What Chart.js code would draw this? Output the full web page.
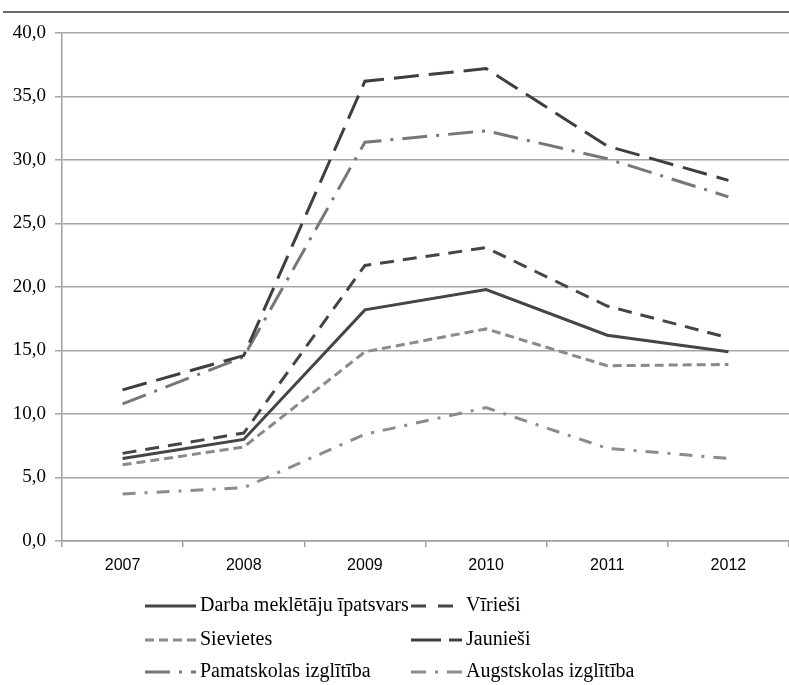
<!DOCTYPE html>
<html>
<head>
<meta charset="utf-8">
<script src="https://cdn.jsdelivr.net/npm/chart.js@4/dist/chart.umd.min.js"></script>
<style>
  html, body { margin: 0; padding: 0; background: #fff; }
  #wrap { position: relative; width: 789px; height: 685px; }
</style>
</head>
<body>
<div id="wrap"><canvas id="c" width="789" height="685"></canvas></div>
<script>
const years = ['2007', '2008', '2009', '2010', '2011', '2012'];
const yTicks = [0, 5, 10, 15, 20, 25, 30, 35, 40];
const seriesNames = ['Darba meklētāju īpatsvars', 'Vīrieši', 'Sievietes', 'Jaunieši', 'Pamatskolas izglītība', 'Augstskolas izglītība'];
const darba = [6.5, 8.0, 18.2, 19.8, 16.2, 14.9];
const virieshi = [6.9, 8.5, 21.7, 23.1, 18.5, 16.0];
const sievietes = [6.0, 7.4, 14.9, 16.7, 13.8, 13.9];
const jaunieshi = [11.9, 14.6, 36.2, 37.2, 31.1, 28.4];
const pamatskolas = [10.8, 14.5, 31.4, 32.3, 30.1, 27.1];
const augstskolas = [3.7, 4.2, 8.4, 10.5, 7.3, 6.5];

const styles = [
  { color: '#454545', dash: [], legendDash: [] },
  { color: '#454545', dash: [14, 9], legendDash: [15, 12] },
  { color: '#8a8a8a', dash: [9, 5], legendDash: [9, 5] },
  { color: '#3f3f3f', dash: [25, 10], legendDash: [30, 8] },
  { color: '#777777', dash: [25, 9, 3, 9], legendDash: [25, 9, 3, 9] },
  { color: '#8c8c8c', dash: [13, 9, 3, 9], legendDash: [15, 9, 3, 9] }
];
const values = [darba, virieshi, sievietes, jaunieshi, pamatskolas, augstskolas];

const datasets = values.map((v, i) => ({
  label: seriesNames[i],
  data: v,
  borderColor: styles[i].color,
  backgroundColor: styles[i].color,
  borderDash: styles[i].dash,
  legendDash: styles[i].legendDash,
  borderWidth: 3,
  pointRadius: 0,
  tension: 0,
  fill: false,
  borderCapStyle: 'butt',
  borderJoinStyle: 'miter'
}));

const decorPlugin = {
  id: 'decor',
  beforeDraw(chart) {
    const ctx = chart.ctx;
    ctx.save();
    ctx.fillStyle = '#fff';
    ctx.fillRect(0, 0, chart.width, chart.height);
    ctx.strokeStyle = '#6a6a6a';
    ctx.lineWidth = 2;
    ctx.beginPath();
    ctx.moveTo(3, 12);
    ctx.lineTo(789, 12);
    ctx.stroke();
    ctx.restore();
  },
  afterDraw(chart) {
    const ctx = chart.ctx;
    const colX = [145, 411];
    const rowY = [606, 640, 672];
    ctx.save();
    ctx.font = '20px "Liberation Serif", "Times New Roman", serif';
    ctx.textBaseline = 'middle';
    ctx.fillStyle = '#000';
    chart.data.datasets.forEach((ds, i) => {
      const x = colX[i % 2];
      const y = rowY[Math.floor(i / 2)];
      ctx.strokeStyle = ds.borderColor;
      ctx.lineWidth = 3;
      ctx.setLineDash(ds.legendDash || []);
      ctx.beginPath();
      ctx.moveTo(x, y);
      ctx.lineTo(x + 51, y);
      ctx.stroke();
      ctx.setLineDash([]);
      ctx.fillText(ds.label, x + 55, y);
    });
    ctx.restore();
  }
};

new Chart(document.getElementById('c'), {
  type: 'line',
  data: { labels: years, datasets: datasets },
  options: {
    responsive: false,
    animation: false,
    devicePixelRatio: 1,
    layout: { padding: { top: 33, right: 0, bottom: 0, left: 0 } },
    plugins: { legend: { display: false }, tooltip: { enabled: false } },
    scales: {
      x: {
        type: 'category',
        offset: true,
        afterFit(scale) { scale.height = 144; },
        grid: {
          offset: true,
          drawOnChartArea: false,
          drawTicks: true,
          tickLength: 6,
          color: '#a0a0a0',
          lineWidth: 1.5
        },
        border: { display: true, color: '#a0a0a0', width: 1.5 },
        ticks: {
          color: '#000',
          padding: 9,
          font: { family: '"Liberation Sans Narrow", "Liberation Sans", Arial, sans-serif', size: 16 }
        }
      },
      y: {
        min: 0,
        max: 40,
        afterFit(scale) { scale.width = 62; },
        afterBuildTicks(scale) { scale.ticks = yTicks.map(v => ({ value: v })); },
        grid: {
          color: '#a6a6a6',
          lineWidth: 1.5,
          tickLength: 7,
          drawTicks: true
        },
        border: { display: true, color: '#a0a0a0', width: 1.5 },
        ticks: {
          color: '#000',
          padding: 9,
          font: { family: '"Liberation Serif", "Times New Roman", serif', size: 19 },
          callback: (v) => Number(v).toFixed(1).replace('.', ',')
        }
      }
    }
  },
  plugins: [decorPlugin]
});
</script>
</body>
</html>
